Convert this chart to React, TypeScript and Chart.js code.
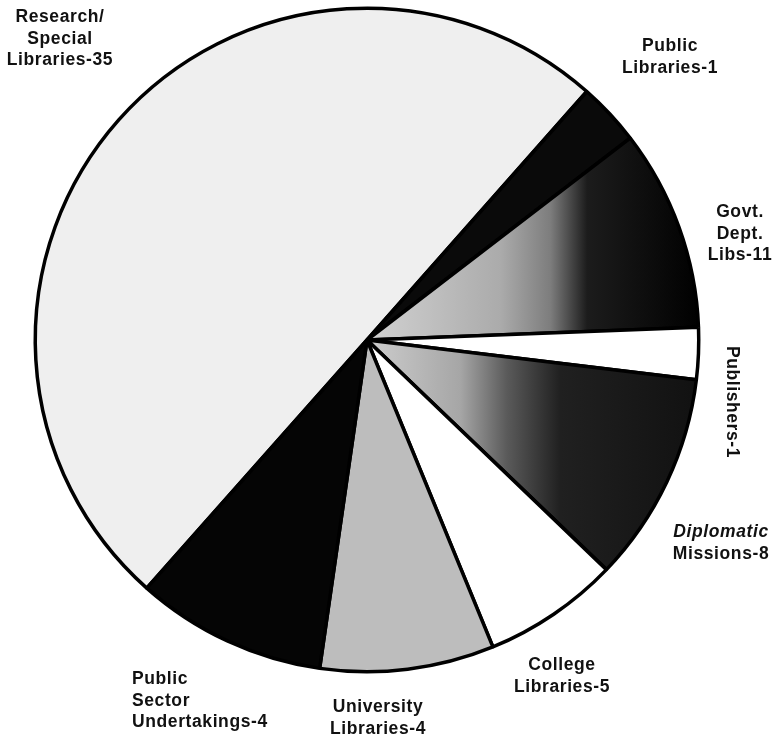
import React, { useEffect, useRef } from "react";
import { Chart, registerables } from "chart.js";

Chart.register(...registerables);

// Categories and counts (as printed on the chart)
const categories = [
  "Research/Special Libraries",
  "Public Libraries",
  "Govt. Dept. Libs",
  "Publishers",
  "Diplomatic Missions",
  "College Libraries",
  "University Libraries",
  "Public Sector Undertakings",
];
const counts = [35, 1, 11, 1, 8, 5, 4, 4];
// Slice sizes as drawn in the picture (degrees of arc)
const sliceDegrees = [179.9, 11.0, 35.3, 9.1, 36.9, 23.9, 30.5, 33.4];
const startAngle = 221.6;

// Label text lines
const labelLines: string[][] = [
  ["Research/", "Special", "Libraries-35"],
  ["Public", "Libraries-1"],
  ["Govt.", "Dept.", "Libs-11"],
  ["Publishers-1"],
  ["Diplomatic", "Missions-8"],
  ["College", "Libraries-5"],
  ["University", "Libraries-4"],
  ["Public", "Sector", "Undertakings-4"],
];

// Label placement (canvas px): x, first baseline y, alignment, rotation, italic first line
const labelPlacement = [
  { x: 60, y: 22, align: "center", rot: 0, italicFirst: false },
  { x: 670, y: 51, align: "center", rot: 0, italicFirst: false },
  { x: 740, y: 217, align: "center", rot: 0, italicFirst: false },
  { x: 733, y: 402, align: "center", rot: 90, italicFirst: false },
  { x: 721, y: 537, align: "center", rot: 0, italicFirst: true },
  { x: 562, y: 670, align: "center", rot: 0, italicFirst: false },
  { x: 378, y: 712, align: "center", rot: 0, italicFirst: false },
  { x: 132, y: 684, align: "left", rot: 0, italicFirst: false },
];
const lineHeight = 21.5;
const FONT = '"Liberation Sans", Arial, Helvetica, sans-serif';

const flatColors = ["#efefef", "#0a0a0a", null, "#ffffff", null, "#ffffff", "#bdbdbd", "#050505"];

const labelPlugin = {
  id: "sliceLabels",
  afterDraw(chart: any) {
    const ctx = chart.ctx as CanvasRenderingContext2D;
    ctx.save();
    ctx.fillStyle = "#111";
    ctx.textBaseline = "alphabetic";
    (ctx as any).letterSpacing = "0.6px";
    labelLines.forEach((lines, i) => {
      const p = labelPlacement[i];
      ctx.save();
      ctx.translate(p.x, p.y);
      if (p.rot) ctx.rotate((p.rot * Math.PI) / 180);
      ctx.textAlign = p.align as CanvasTextAlign;
      lines.forEach((t, j) => {
        const italic = p.italicFirst && j === 0;
        ctx.font = `${italic ? "italic " : ""}bold 17.5px ${FONT}`;
        const yy = p.rot ? 6 : j * lineHeight;
        ctx.fillText(t, 0, yy);
      });
      ctx.restore();
    });
    ctx.restore();
  },
};

export default function App() {
  const ref = useRef<HTMLCanvasElement | null>(null);
  useEffect(() => {
    if (!ref.current) return;
    const chart = new Chart(ref.current, {
      type: "pie",
      data: {
        labels: categories.map((c, i) => `${c}-${counts[i]}`),
        datasets: [
          {
            data: sliceDegrees,
            backgroundColor: (c: any) => {
              const i = c.dataIndex;
              const fc = flatColors[i];
              if (fc) return fc;
              const ch = c.chart;
              const a = ch.chartArea;
              if (!a) return "#777";
              const cx = (a.left + a.right) / 2;
              const r = (a.right - a.left) / 2;
              const g = ch.ctx.createLinearGradient(cx, 0, cx + r, 0);
              if (i === 2) {
                g.addColorStop(0, "#d2d2d2");
                g.addColorStop(0.4, "#ababab");
                g.addColorStop(0.55, "#7d7d7d");
                g.addColorStop(0.66, "#1c1c1c");
                g.addColorStop(1, "#000000");
              } else {
                g.addColorStop(0, "#cdcdcd");
                g.addColorStop(0.28, "#a6a6a6");
                g.addColorStop(0.42, "#5a5a5a");
                g.addColorStop(0.58, "#202020");
                g.addColorStop(1, "#111111");
              }
              return g;
            },
            borderColor: "#000000",
            borderWidth: 3.5,
          },
        ],
      },
      options: {
        responsive: false,
        animation: false,
        rotation: startAngle,
        layout: { padding: { left: 33.5, right: 75.5, top: 6.5, bottom: 69.5 } },
        plugins: {
          legend: { display: false },
          tooltip: { enabled: false },
          title: { display: false },
        },
      },
      plugins: [labelPlugin],
    });
    return () => chart.destroy();
  }, []);
  return (
    <div style={{ position: "fixed", left: 0, top: 0, width: 776, height: 743, background: "#fff" }}>
      <canvas ref={ref} width={776} height={743} style={{ display: "block" }} />
    </div>
  );
}
